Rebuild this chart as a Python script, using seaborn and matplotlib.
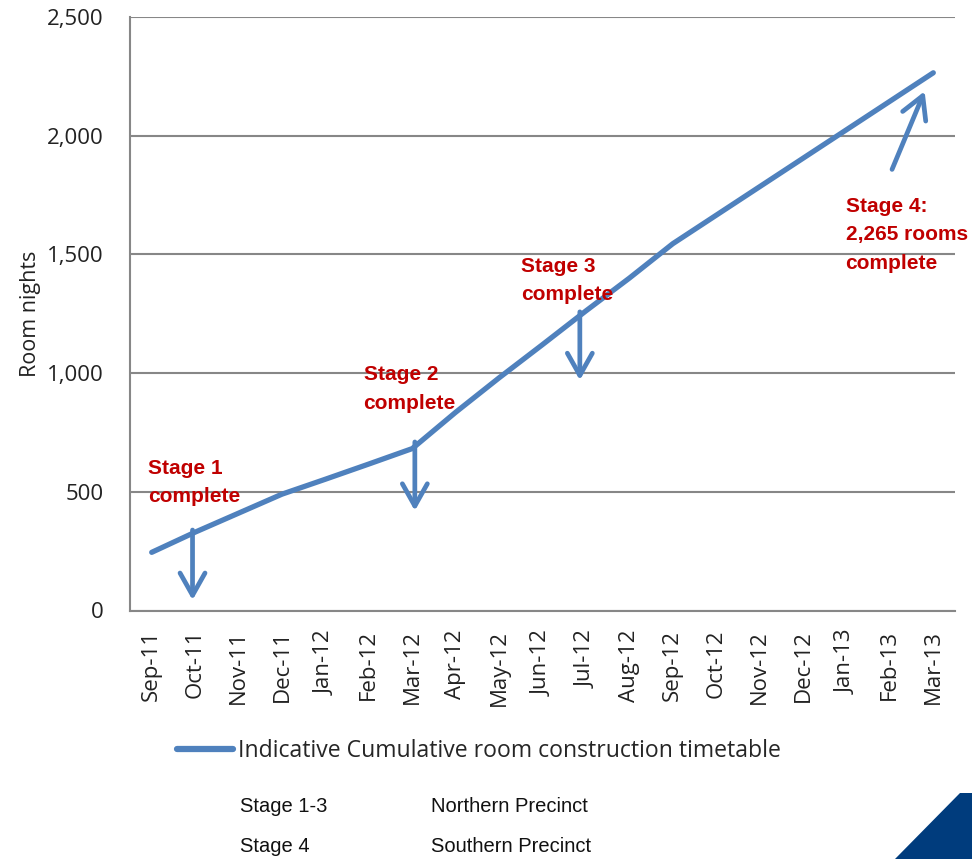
import numpy as np
import pandas as pd
import seaborn as sns
import matplotlib
matplotlib.use("Agg")
from matplotlib import pyplot as plt
from matplotlib.patches import Polygon

# chart values
months = ["Sep-11", "Oct-11", "Nov-11", "Dec-11", "Jan-12", "Feb-12", "Mar-12",
          "Apr-12", "May-12", "Jun-12", "Jul-12", "Aug-12", "Sep-12", "Oct-12",
          "Nov-12", "Dec-12", "Jan-13", "Feb-13", "Mar-13"]
rooms = [245, 330, 410, 490, 553, 617, 682, 835, 980, 1120, 1262, 1400,
         1545, 1665, 1785, 1905, 2025, 2145, 2265]
series_name = "Indicative Cumulative room construction timetable"
yticks = [0, 500, 1000, 1500, 2000, 2500]

# stage callouts: text, top-left position, arrow start / end
stage_text = ["Stage 1\ncomplete", "Stage 2\ncomplete", "Stage 3\ncomplete",
              "Stage 4:\n2,265 rooms\ncomplete"]
stage_text_x = [-0.09, 4.88, 8.5, 15.98]
stage_text_y = [638, 1033, 1489, 1742]
arrow_from = [(0.94, 339), (6.06, 710), (9.86, 1258), (17.05, 1858)]
arrow_to = [(0.94, 44), (6.06, 420), (9.86, 970), (17.8, 2187)]

precinct_stage = ["Stage 1-3", "Stage 4"]
precinct_name = ["Northern Precinct", "Southern Precinct"]

BLUE = "#4F81BD"
RED = "#C00000"
GREY = "#878787"

sns.set_style("white")
plt.rcParams["font.family"] = ["Open Sans", "DejaVu Sans"]

W, H = 972, 859
fig = plt.figure(figsize=(W / 100, H / 100), dpi=100)
ax = fig.add_axes([130 / W, 1 - 610.5 / H, 825 / W, 593.5 / H])

df = pd.DataFrame({"idx": np.arange(len(months)), "rooms": rooms})
sns.lineplot(data=df, x="idx", y="rooms", ax=ax, color=BLUE, linewidth=3.8,
             label=series_name, solid_capstyle="round", solid_joinstyle="round")

ax.set_xlim(-0.5, len(months) - 0.5)
ax.set_ylim(0, 2500)
ax.set_yticks(yticks)
ax.set_yticklabels([f"{v:,}" for v in yticks], fontsize=16, color="#222222")
ax.set_xticks(np.arange(len(months)))
ax.set_xticklabels(months, rotation=90, fontsize=16, color="#222222")
ax.set_xticks(np.arange(len(months) + 1) - 0.5, minor=True)
ax.tick_params(axis="x", which="major", length=0, pad=14)
ax.tick_params(axis="x", which="minor", length=8, width=1.5, color=GREY, direction="out")
ax.tick_params(axis="y", length=7, width=1.5, color=GREY, direction="out", pad=12)
ax.set_xlabel("")
ax.set_ylabel("Room nights", fontsize=15.5, color="#222222", labelpad=4)

ax.grid(axis="y", color=GREY, linewidth=1.5)
ax.grid(axis="x", visible=False)
ax.set_axisbelow(True)
for s in ["top", "right"]:
    ax.spines[s].set_visible(False)
for s in ["left", "bottom"]:
    ax.spines[s].set_color(GREY)
    ax.spines[s].set_linewidth(1.5)

for t, x, y in zip(stage_text, stage_text_x, stage_text_y):
    ax.text(x, y, t, color=RED, fontsize=15, fontweight="bold", family=["Liberation Sans"],
            ha="left", va="top", linespacing=1.62)

for a, b in zip(arrow_from, arrow_to):
    ax.annotate("", xy=b, xytext=a,
                arrowprops=dict(arrowstyle="->,head_length=0.8,head_width=0.45",
                                lw=3.4, color=BLUE, mutation_scale=20,
                                shrinkA=0, shrinkB=0))

leg = ax.legend(loc="center left", bbox_to_anchor=(177 / W, 1 - 751 / H),
                bbox_transform=fig.transFigure, frameon=False, fontsize=16.6,
                handlelength=2.45, handletextpad=0.18, borderpad=0, borderaxespad=0)
for line in leg.get_lines():
    line.set_linewidth(4.5)
    line.set_solid_capstyle("round")

for i, (a, b) in enumerate(zip(precinct_stage, precinct_name)):
    y = 1 - (806 + 40 * i) / H
    fig.text(240 / W, y, a, fontsize=14.5, family=["Liberation Sans"], va="center", color="#111111")
    fig.text(431 / W, y, b, fontsize=14.5, family=["Liberation Sans"], va="center", color="#111111")

fig.patches.append(Polygon([(895 / W, 0), (960 / W, 1 - 793 / H), (1, 1 - 793 / H), (1, 0)],
                           closed=True, transform=fig.transFigure, facecolor="#003C7D",
                           edgecolor="none"))

fig.savefig("out.png", dpi=100)
